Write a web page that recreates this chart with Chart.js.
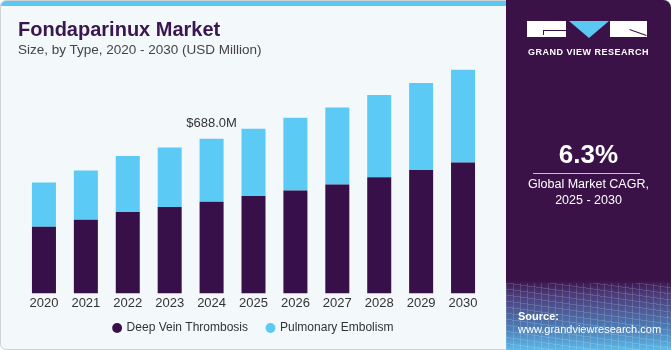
<!DOCTYPE html>
<html>
<head>
<meta charset="utf-8">
<script src="https://cdn.jsdelivr.net/npm/chart.js@4"></script>
<style>
	html, body { margin: 0; padding: 0; }
	body { width: 671px; height: 350px; overflow: hidden; font-family: "Liberation Sans", Arial, sans-serif; }
	#frame {
		position: absolute; left: 0; top: 0; width: 669px; height: 348px;
		border: 1px solid #cfd3d6; border-radius: 6px; background: #f3f8fb; overflow: hidden;
	}
	#strip { position: absolute; left: 0; top: 0; width: 506px; height: 5px; background: #5bc8f4; }
	#title { position: absolute; left: 17px; top: 17px; font-size: 20px; font-weight: bold; color: #3a1650; }
	#subtitle { position: absolute; left: 17px; top: 41px; font-size: 13.5px; color: #444; }
	#chartBox { position: absolute; left: 0; top: 0; width: 506px; height: 350px; }
	#panel {
		position: absolute; left: 506px; top: 0; width: 165px; height: 350px;
		background: linear-gradient(180deg, #3a1248 0%, #3a1248 80%, #4a3a78 84%, #4d7fb8 94%, #5cb9e8 100%);
		border-top-right-radius: 8px; color: #fff; text-align: center;
	}
	#grid {
		position: absolute; left: 0; top: 283px; width: 165px; height: 67px; opacity: 0.25;
		background:
			repeating-linear-gradient(90deg, rgba(255,255,255,0.6) 0 1px, transparent 1px 7px),
			repeating-linear-gradient(8deg, rgba(255,255,255,0.6) 0 1px, transparent 1px 6px);
	}
	.logoRect { position: absolute; top: 21px; height: 16px; background: #fff; }
	.logoLine { position: absolute; height: 1px; background: #3a1248; }
	#tri {
		position: absolute; left: 63px; top: 21px; width: 0; height: 0;
		border-left: 20px solid transparent; border-right: 20px solid transparent; border-top: 17px solid #5bc8f4;
	}
	#gvr { position: absolute; left: 0; width: 165px; top: 47px; font-size: 9px; font-weight: bold; letter-spacing: 0.5px; }
	#cagr { position: absolute; left: 0; width: 165px; top: 139px; font-size: 26px; font-weight: bold; }
	#rule { position: absolute; left: 27px; width: 107px; top: 173px; height: 1px; background: #c9bcd2; }
	#cagrText { position: absolute; left: 0; width: 165px; top: 177px; font-size: 12.5px; line-height: 15.5px; }
	#source { position: absolute; left: 12px; top: 310px; font-size: 11px; text-align: left; line-height: 13px; }
</style>
</head>
<body>
<div id="frame">
	<div id="strip"></div>
	<div id="chartBox"><canvas id="marketChart" width="506" height="350"></canvas></div>
	<div id="title">Fondaparinux Market</div>
	<div id="subtitle">Size, by Type, 2020 - 2030 (USD Million)</div>
</div>
<div id="panel">
	<div id="grid"></div>
	<div class="logoRect" style="left:21px;width:39px;"></div>
	<div class="logoLine" style="left:37px;width:23px;top:30px;"></div>
	<div class="logoLine" style="left:37px;width:1px;height:5px;top:30px;"></div>
	<div id="tri"></div>
	<div class="logoRect" style="left:104px;width:37px;"></div>
	<div class="logoLine" style="left:123px;width:18px;top:32px;transform:rotate(20deg);"></div>
	<div id="gvr">GRAND VIEW RESEARCH</div>
	<div id="cagr">6.3%</div>
	<div id="rule"></div>
	<div id="cagrText">Global Market CAGR,<br>2025 - 2030</div>
	<div id="source"><b>Source:</b><br>www.grandviewresearch.com</div>
</div>
<script>
const years = ['2020', '2021', '2022', '2023', '2024', '2025', '2026', '2027', '2028', '2029', '2030'];
const deepVein = [296, 327, 362, 384, 407, 433, 457, 484, 516, 549, 582];
const pulmonary = [197, 219, 249, 265, 281, 299, 324, 343, 366, 386, 412];
const calloutIndex = 4;
const calloutText = '$688.0M';

const calloutPlugin = {
	id: 'callout',
	afterDatasetsDraw(chart) {
		const meta = chart.getDatasetMeta(1);
		const bar = meta.data[calloutIndex];
		const ctx = chart.ctx;
		ctx.save();
		ctx.font = '13px "Liberation Sans", Arial, sans-serif';
		ctx.fillStyle = '#333';
		ctx.textAlign = 'center';
		ctx.textBaseline = 'middle';
		ctx.fillText(calloutText, bar.x, bar.y - 15);
		ctx.restore();
	}
};

document.addEventListener('DOMContentLoaded', () => {
	const canvas = document.getElementById('marketChart');
	new Chart(canvas.getContext('2d'), {
		type: 'bar',
		data: {
			labels: years,
			datasets: [{
				label: 'Deep Vein Thrombosis',
				data: deepVein,
				backgroundColor: '#37104a',
				borderWidth: 0
			}, {
				label: 'Pulmonary Embolism',
				data: pulmonary,
				backgroundColor: '#5bcaf5',
				borderWidth: 0
			}]
		},
		options: {
			responsive: false,
			animation: false,
			categoryPercentage: 0.573,
			barPercentage: 1,
			layout: { padding: { left: 22, right: 23, top: 45, bottom: 7 } },
			scales: {
				x: {
					stacked: true,
					grid: { display: false, drawTicks: false },
					border: { display: false },
					ticks: { color: '#333', font: { size: 13, family: '"Liberation Sans", Arial, sans-serif' }, padding: 2 }
				},
				y: {
					stacked: true,
					display: false,
					min: 0,
					max: 1100
				}
			},
			plugins: {
				legend: {
					position: 'bottom',
					labels: {
						usePointStyle: true,
						pointStyle: 'circle',
						boxWidth: 7,
						boxHeight: 7,
						padding: 9,
						color: '#333',
						font: { size: 12, family: '"Liberation Sans", Arial, sans-serif' },
						generateLabels(chart) {
							const items = Chart.defaults.plugins.legend.labels.generateLabels(chart);
							// widen the gap between the two entries
							items[0].text += '   ';
							return items;
						}
					}
				},
				tooltip: { enabled: false }
			}
		},
		plugins: [calloutPlugin]
	});
});
</script>
</body>
</html>
